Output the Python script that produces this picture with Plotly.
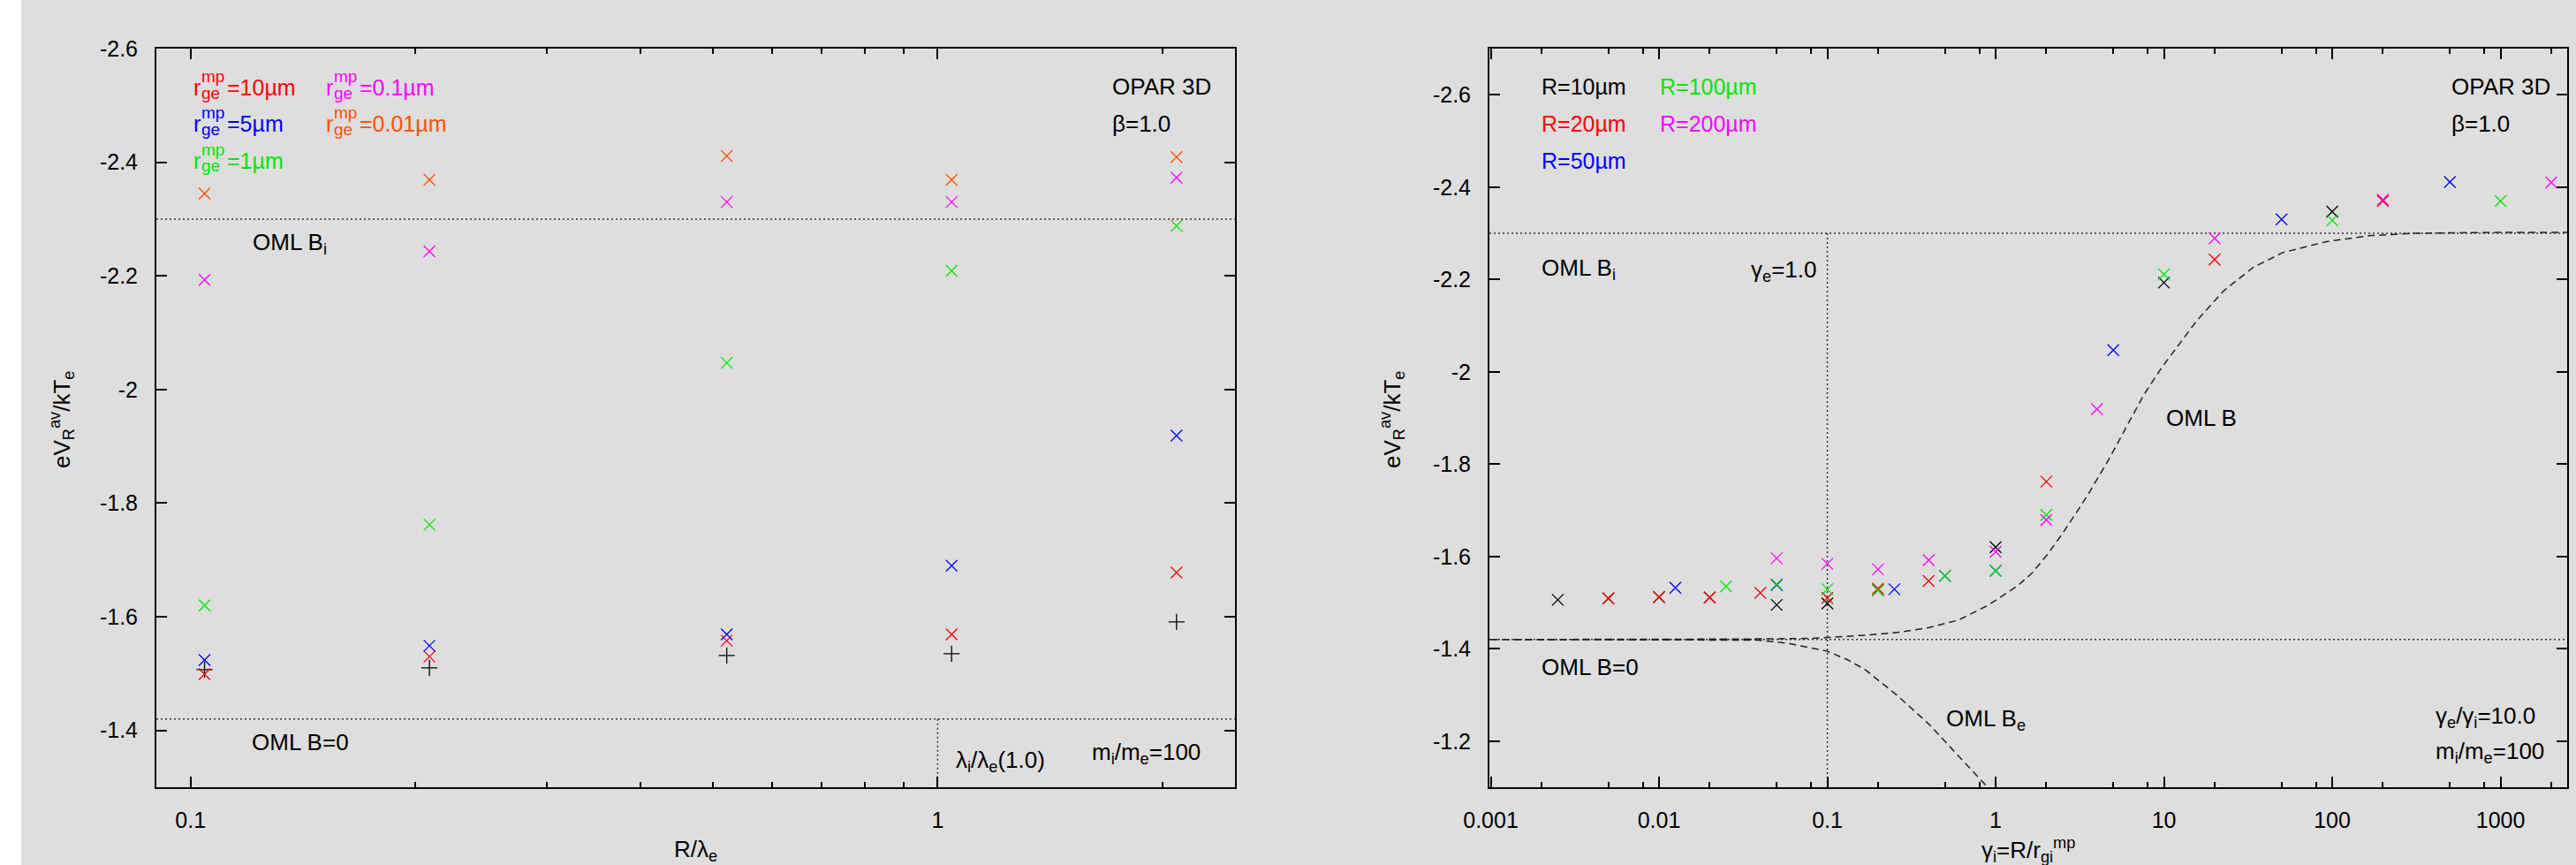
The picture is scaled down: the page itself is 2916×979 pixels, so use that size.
import plotly.graph_objects as go

FONT = "Liberation Sans, Arial, Helvetica, sans-serif"
W, H = 2916, 979
BG = "#dedede"

RED, BLUE, GREEN, MAGENTA, ORANGE, BLACK = "#ff0000", "#0000ff", "#00e600", "#ff00ff", "#ff5000", "#000000"

# ---------------- left panel data: potential vs R/lambda_e ----------------
r_over_lambda_e = [0.1044, 0.2088, 0.522, 1.044, 2.088]
v_rge_10um = [-1.499, -1.530, -1.558, -1.569, -1.678]
v_rge_5um = [-1.524, -1.549, -1.569, -1.690, -1.919]
v_rge_1um = [-1.620, -1.762, -2.047, -2.209, -2.288]
v_rge_0p1um = [-2.193, -2.243, -2.330, -2.330, -2.373]
v_rge_0p01um = [-2.345, -2.369, -2.411, -2.369, -2.409]
v_B_zero = [-1.507, -1.510, -1.532, -1.535, -1.591]

# ---------------- right panel data: potential vs gamma_i ----------------
g_R10 = [0.0025, 0.005, 0.01, 0.02, 0.05, 0.1, 0.2, 1, 10, 100]
v_R10 = [-1.506, -1.509, -1.512, -1.511, -1.495, -1.498, -1.527, -1.620, -2.193, -2.347]
g_R20 = [0.005, 0.01, 0.02, 0.04, 0.1, 0.2, 0.4, 2, 20, 200]
v_R20 = [-1.509, -1.512, -1.511, -1.521, -1.510, -1.530, -1.547, -1.762, -2.243, -2.370]
g_R50 = [0.0125, 0.05, 0.25, 0.5, 1, 5, 50, 500]
v_R50 = [-1.532, -1.538, -1.529, -1.558, -1.569, -2.047, -2.330, -2.411]
g_R100 = [0.025, 0.05, 0.1, 0.2, 0.5, 1, 2, 10, 100, 1000]
v_R100 = [-1.535, -1.540, -1.529, -1.527, -1.558, -1.569, -1.690, -2.211, -2.328, -2.370]
g_R200 = [0.05, 0.1, 0.2, 0.4, 1, 2, 4, 20, 200, 2000]
v_R200 = [-1.596, -1.584, -1.572, -1.592, -1.610, -1.679, -1.919, -2.289, -2.373, -2.410]

# OML B curve
g_omlB = [0.001, 0.01, 0.03, 0.08, 0.12, 0.179, 0.269, 0.402, 0.601, 0.90, 1.346, 1.647, 2.017,
          2.47, 3.02, 3.54, 4.70, 5.98, 7.62, 9.70, 12.4, 15.7, 22.6, 33.9, 50.7, 92.7, 170, 311,
          1000, 2500]
v_omlB = [-1.420, -1.420, -1.421, -1.4224, -1.4256, -1.430, -1.436, -1.446, -1.462, -1.494, -1.536,
          -1.564, -1.603, -1.647, -1.695, -1.734, -1.810, -1.881, -1.951, -2.009, -2.060, -2.111,
          -2.175, -2.226, -2.258, -2.282, -2.295, -2.300, -2.302, -2.302]
# OML B_e curve
g_omlBe = [0.001, 0.01, 0.0388, 0.058, 0.0993, 0.132, 0.166, 0.26, 0.406, 0.637, 0.891]
v_omlBe = [-1.420, -1.420, -1.4186, -1.412, -1.395, -1.376, -1.356, -1.299, -1.235, -1.158, -1.101]

# reference levels
OML_Bi = -2.30
OML_B0 = -1.42
lambda_ratio = 1.0
gamma_e_one = 0.1

# axis ranges
L_XR = [-1.0458, 0.398]
L_YR = [-1.3, -2.6]
R_XR = [-3.008, 3.396]
R_YR = [-1.1, -2.7]

left_ticks = [-2.6, -2.4, -2.2, -2.0, -1.8, -1.6, -1.4]
left_ticktext = ["-2.6", "-2.4", "-2.2", "-2", "-1.8", "-1.6", "-1.4"]
right_ticks = [-2.6, -2.4, -2.2, -2.0, -1.8, -1.6, -1.4, -1.2]
right_ticktext = ["-2.6", "-2.4", "-2.2", "-2", "-1.8", "-1.6", "-1.4", "-1.2"]
left_xticks = [0.1, 1]
left_xticktext = ["0.1", "1"]
left_xminor = [0.2, 0.3, 0.4, 0.5, 0.6, 0.7, 0.8, 0.9, 2]
right_xticks = [0.001, 0.01, 0.1, 1, 10, 100, 1000]
right_xticktext = ["0.001", "0.01", "0.1", "1", "10", "100", "1000"]
right_xminor = [m * d for d in [0.001, 0.01, 0.1, 1, 10, 100, 1000] for m in (2, 5, 8)]

fig = go.Figure()

DOT = "2px,3px"
DASH = "8px,5px"


def ref_line(x, y, xa, ya, dash, color="#333333"):
    fig.add_trace(go.Scatter(x=x, y=y, mode="lines", xaxis=xa, yaxis=ya, hoverinfo="skip",
                             line=dict(color=color, width=1.5, dash=dash)))


# left reference lines
ref_line([10 ** L_XR[0], 10 ** L_XR[1]], [OML_Bi, OML_Bi], "x", "y", DOT)
ref_line([10 ** L_XR[0], 10 ** L_XR[1]], [OML_B0, OML_B0], "x", "y", DOT)
ref_line([lambda_ratio, lambda_ratio], [OML_B0, L_YR[0]], "x", "y", DOT)

# right reference lines
ref_line([10 ** R_XR[0], 10 ** R_XR[1]], [OML_Bi, OML_Bi], "x2", "y2", DOT)
ref_line([10 ** R_XR[0], 10 ** R_XR[1]], [OML_B0, OML_B0], "x2", "y2", DOT)
ref_line([gamma_e_one, gamma_e_one], [OML_Bi, R_YR[0]], "x2", "y2", DOT)
ref_line(g_omlB, v_omlB, "x2", "y2", DASH, "#222222")
ref_line(g_omlBe, v_omlBe, "x2", "y2", DASH, "#222222")


def pts(x, y, color, xa, ya, symbol="x-thin"):
    fig.add_trace(go.Scatter(x=x, y=y, mode="markers", xaxis=xa, yaxis=ya,
                             marker=dict(symbol=symbol, size=13, color=color,
                                         line=dict(color=color, width=1.3))))


pts(r_over_lambda_e, v_B_zero, BLACK, "x", "y", "cross-thin")
pts(r_over_lambda_e, v_rge_10um, RED, "x", "y")
pts(r_over_lambda_e, v_rge_5um, BLUE, "x", "y")
pts(r_over_lambda_e, v_rge_1um, GREEN, "x", "y")
pts(r_over_lambda_e, v_rge_0p1um, MAGENTA, "x", "y")
pts(r_over_lambda_e, v_rge_0p01um, ORANGE, "x", "y")

pts(g_R10, v_R10, BLACK, "x2", "y2")
pts(g_R20, v_R20, RED, "x2", "y2")
pts(g_R50, v_R50, BLUE, "x2", "y2")
pts(g_R100, v_R100, GREEN, "x2", "y2")
pts(g_R200, v_R200, MAGENTA, "x2", "y2")

axis_common = dict(showline=True, linecolor="black", linewidth=2, mirror="ticks",
                   ticks="inside", ticklen=12, tickwidth=2, tickcolor="black",
                   showgrid=False, zeroline=False, ticklabelstandoff=14, automargin=False,
                   tickfont=dict(family=FONT, size=25, color="black"))
minor_common = dict(ticks="inside", ticklen=6, tickwidth=1.5, tickcolor="black", showgrid=False,
                    tickmode="array")

ydom = [1 - 891 / H, 1 - 55 / H]

fig.update_layout(
    width=W, height=H, margin=dict(l=0, r=0, t=0, b=0, autoexpand=False),
    paper_bgcolor=BG, plot_bgcolor=BG, showlegend=False,
    xaxis=dict(domain=[177 / W, 1398 / W], type="log", range=L_XR, anchor="y",
               tickmode="array", tickvals=left_xticks, ticktext=left_xticktext,
               minor=dict(tickvals=left_xminor, **minor_common), **axis_common),
    yaxis=dict(domain=ydom, range=L_YR, anchor="x", tickmode="array",
               tickvals=left_ticks, ticktext=left_ticktext, **axis_common),
    xaxis2=dict(domain=[1686 / W, 2906 / W], type="log", range=R_XR, anchor="y2",
                tickmode="array", tickvals=right_xticks, ticktext=right_xticktext,
                minor=dict(tickvals=right_xminor, **minor_common), **axis_common),
    yaxis2=dict(domain=ydom, range=R_YR, anchor="x2", tickmode="array",
                tickvals=right_ticks, ticktext=right_ticktext, **axis_common),
)

fig.add_shape(type="rect", xref="paper", yref="paper", x0=0, x1=24 / W, y0=0, y1=1,
              fillcolor="white", line=dict(width=0), layer="below")

anns = []


def ann(text, xp, yp, color="black", size=26, xanchor="left", yanchor="middle", angle=0):
    anns.append(dict(text=text, x=xp / W, y=1 - yp / H, xref="paper", yref="paper",
                     showarrow=False, xanchor=xanchor, yanchor=yanchor, textangle=angle,
                     font=dict(family=FONT, size=size, color=color)))


def rge_label(val, xp, yp, color):
    ann("r", xp, yp, color, size=25)
    ann("mp", xp + 9, yp - 13, color, size=19)
    ann("ge", xp + 9, yp + 6, color, size=19)
    ann("=" + val, xp + 38, yp, color, size=25)


# left panel texts
rge_label("10µm", 217, 99, RED)
rge_label("0.1µm", 367, 99, MAGENTA)
rge_label("5µm", 217, 140, BLUE)
rge_label("0.01µm", 367, 140, ORANGE)
rge_label("1µm", 217, 182, GREEN)
ann("OPAR 3D", 1257, 98)
ann("β=1.0", 1257, 140)
ann("OML B<sub>i</sub>", 284, 276)
ann("OML B=0", 283, 840)
ann("λ<sub>i</sub>/λ<sub>e</sub>(1.0)", 1080, 861)
ann("m<sub>i</sub>/m<sub>e</sub>=100", 1234, 852)

# right panel texts
ann("R=10µm", 1743, 98, BLACK, 25)
ann("R=100µm", 1877, 98, GREEN, 25)
ann("R=20µm", 1743, 140, RED, 25)
ann("R=200µm", 1877, 140, MAGENTA, 25)
ann("R=50µm", 1743, 182, BLUE, 25)
ann("OPAR 3D", 2773, 98)
ann("β=1.0", 2773, 140)
ann("OML B<sub>i</sub>", 1743, 304)
ann("γ<sub>e</sub>=1.0", 1980, 306)
ann("OML B", 2450, 473)
ann("OML B=0", 1743, 755)
ann("OML B<sub>e</sub>", 2201, 814)
ann("γ<sub>e</sub>/γ<sub>i</sub>=10.0", 2755, 811)
ann("m<sub>i</sub>/m<sub>e</sub>=100", 2755, 851)

# axis titles
ann("R/λ<sub>e</sub>", 787, 962, xanchor="center")
ann("γ<sub>i</sub>=R/r<sub>gi</sub><sup>mp</sup>", 2296, 962, xanchor="center")
ann("eV<sub>R</sub><sup>av</sup>/kT<sub>e</sub>", 70, 475, xanchor="center", angle=-90)
ann("eV<sub>R</sub><sup>av</sup>/kT<sub>e</sub>", 1576, 475, xanchor="center", angle=-90)

fig.update_layout(annotations=anns)

fig.write_html(
    "out.html", config={"displayModeBar": False},
    post_script=("document.documentElement.style.margin='0';document.body.style.margin='0';"
                 "document.body.style.padding='0';document.body.style.overflow='hidden';"
                 "var gd=document.getElementById('{plot_id}');gd.style.position='fixed';"
                 "gd.style.left='0px';gd.style.top='0px';"))
